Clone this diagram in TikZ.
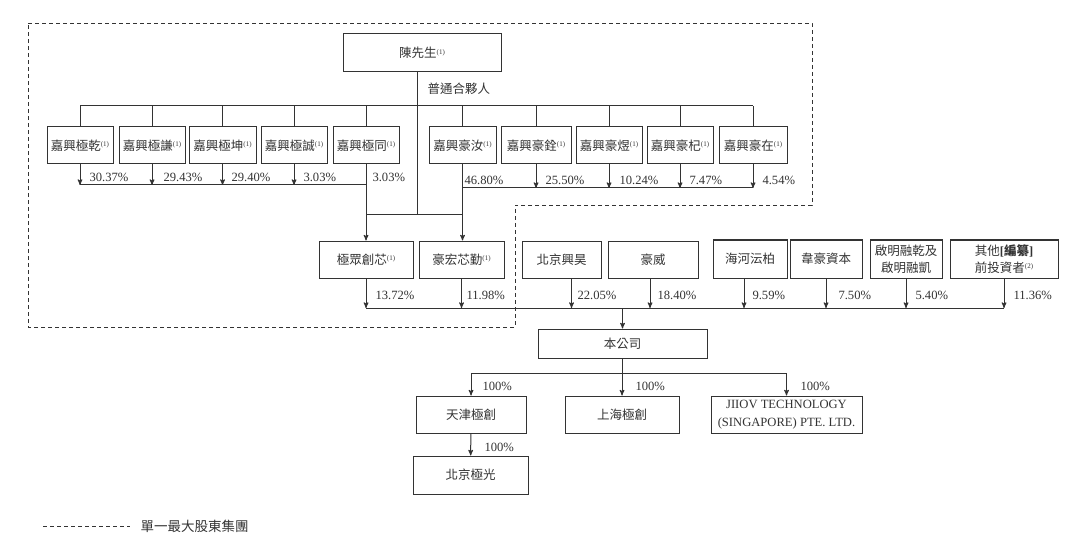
\documentclass[tikz,border=0pt]{standalone}
\usepackage{fontspec}
\setmainfont{Liberation Serif}
\newfontfamily\cjk{Noto Sans CJK TC}
\usepackage{tikz}
\usetikzlibrary{arrows}
\definecolor{ink}{HTML}{333333}
\newcommand{\fn}[1]{\raisebox{3.5pt}{\rmfamily\fontsize{7}{7}\selectfont(#1)}}
\newcommand{\lat}[1]{{\rmfamily #1}}

\begin{document}
\begin{tikzpicture}[>=stealth',x=1pt,y=-1pt,line width=1pt,color=ink]
	\useasboundingbox (0,0) rectangle (1080,559);
	\tikzset{entity/.style={draw,inner sep=1pt,align=center,minimum height=37pt,font=\cjk\fontsize{12.5}{17}\selectfont}}
	\tikzset{pct/.style={anchor=west,inner sep=0pt,font=\fontsize{12.6}{14}\selectfont}}
	\tikzset{group/.style={dash pattern=on 4pt off 3pt,line width=0.8pt}}
	% bus levels
	\coordinate (topbus) at (0,106);
	\coordinate (busL)   at (0,185);
	\coordinate (busR)   at (0,188);
	\coordinate (midbus) at (0,215);
	\coordinate (lowbus) at (0,308);
	\coordinate (subbus) at (0,373);
	% single largest shareholder group
	\draw[group] (28,23) -- (812,23) -- (812,205) -- (515,205) -- (515,327) -- (28,327) -- cycle;
	
	\node[entity,minimum width=158pt,minimum height=38pt] (chen) at (422,53) {陳先生\fn{1}};
	\node[anchor=west,inner sep=0pt,font=\cjk\fontsize{12.5}{14}\selectfont] (gplabel) at (427,89) {普通合夥人};
	
	\node[entity,minimum width=66pt] (qian)  at (80,145.5)  {嘉興極乾\fn{1}};
	\node[entity,minimum width=66pt] (qianx) at (152,145.5) {嘉興極謙\fn{1}};
	\node[entity,minimum width=67pt] (kun)   at (222.5,145.5) {嘉興極坤\fn{1}};
	\node[entity,minimum width=66pt] (cheng) at (294,145.5) {嘉興極誠\fn{1}};
	\node[entity,minimum width=66pt] (tong)  at (366,145.5) {嘉興極同\fn{1}};
	\node[entity,minimum width=67pt] (ru)    at (462.5,145.5) {嘉興豪汝\fn{1}};
	\node[entity,minimum width=70pt] (quan)  at (536,145.5) {嘉興豪銓\fn{1}};
	\node[entity,minimum width=66pt] (yu)    at (609,145.5) {嘉興豪煜\fn{1}};
	\node[entity,minimum width=66pt] (qi)    at (680,145.5) {嘉興豪杞\fn{1}};
	\node[entity,minimum width=68pt] (zai)   at (753,145.5) {嘉興豪在\fn{1}};
	
	\node[entity,minimum width=94pt] (jz)   at (366,259.5) {極眾創芯\fn{1}};
	\node[entity,minimum width=85pt] (hh)   at (461.5,259.5) {豪宏芯勤\fn{1}};
	\node[entity,minimum width=79pt] (bjxh) at (561.5,259.5) {北京興昊};
	\node[entity,minimum width=90pt] (hw)   at (653,259.5) {豪威};
	\node[entity,minimum width=74pt,minimum height=38pt] (hhyb)  at (750,259) {海河沄柏};
	\node[entity,minimum width=72pt,minimum height=38pt] (whzb)  at (826,259) {韋豪資本};
	\node[entity,minimum width=72pt,minimum height=38pt] (qm)    at (906,259) {啟明融乾及\\啟明融凱};
	\node[entity,minimum width=108pt,minimum height=38pt] (other) at (1004,259) {其他\textbf{\lat{[}編纂\lat{]}}\\前投資者\fn{2}};
	
	\node[entity,minimum width=169pt,minimum height=29pt] (bgs) at (622.5,343.5) {本公司};
	\node[entity,minimum width=110pt] (tj)    at (471,414.5) {天津極創};
	\node[entity,minimum width=114pt] (sh)    at (622,414.5) {上海極創};
	\node[entity,minimum width=151pt,font=\rmfamily\fontsize{12.6}{18}\selectfont] (jiiov) at (786.5,414.5) {JIIOV TECHNOLOGY\\(SINGAPORE) PTE. LTD.};
	\node[entity,minimum width=115pt,minimum height=38pt] (bjjg) at (470.5,475) {北京極光};
	
	% general partner lines
	\draw ([xshift=-5pt]chen.south) coordinate (gp) -- (gp |- midbus);
	\draw (qian.north |- topbus) -- (zai.north |- topbus);
	\path
	(qian)  edge (qian.north |- topbus)
	(qianx) edge (qianx.north |- topbus)
	(kun)   edge (kun.north |- topbus)
	(cheng) edge (cheng.north |- topbus)
	(tong)  edge (tong.north |- topbus)
	(ru)    edge (ru.north |- topbus)
	(quan)  edge (quan.north |- topbus)
	(yu)    edge (yu.north |- topbus)
	(qi)    edge (qi.north |- topbus)
	(zai)   edge (zai.north |- topbus);
	
	% limited partners
	\draw (qian.south |- busL) -- (tong.south |- busL);
	\draw (ru.south |- busR) -- (zai.south |- busR);
	\draw (tong.south |- midbus) -- (ru.south |- midbus);
	\path[->]
	(qian)  edge (qian.south |- busL)
	(qianx) edge (qianx.south |- busL)
	(kun)   edge (kun.south |- busL)
	(cheng) edge (cheng.south |- busL)
	(tong)  edge (jz)
	(ru)    edge (ru.south |- hh.north)
	(quan)  edge (quan.south |- busR)
	(yu)    edge (yu.south |- busR)
	(qi)    edge (qi.south |- busR)
	(zai)   edge (zai.south |- busR);
	
	% shareholders of the company
	\draw (jz.south |- lowbus) -- (other.south |- lowbus);
	\path[->]
	(jz)    edge (jz.south |- lowbus)
	(hh)    edge (hh.south |- lowbus)
	([xshift=10pt]bjxh.south) edge ([xshift=10pt]bjxh.south |- lowbus)
	([xshift=-3pt]hw.south)   edge ([xshift=-3pt]hw.south |- lowbus)
	([xshift=-6pt]hhyb.south) edge ([xshift=-6pt]hhyb.south |- lowbus)
	(whzb)  edge (whzb.south |- lowbus)
	(qm)    edge (qm.south |- lowbus)
	(other) edge (other.south |- lowbus)
	(bgs.north |- lowbus) edge (bgs);
	
	% subsidiaries
	\draw (bgs) -- (bgs.south |- subbus);
	\draw (tj.north |- subbus) -- (jiiov.north |- subbus);
	\path[->]
	(tj.north |- subbus)    edge (tj)
	(sh.north |- subbus)    edge (sh)
	(jiiov.north |- subbus) edge (jiiov)
	(tj)    edge (bjjg);
	
	\node[pct] (p-qian)  at (89,177)  {30.37\%};
	\node[pct] (p-qianx) at (163,177) {29.43\%};
	\node[pct] (p-kun)   at (231,177) {29.40\%};
	\node[pct] (p-cheng) at (303,177) {3.03\%};
	\node[pct] (p-tong)  at (372,177) {3.03\%};
	\node[pct] (p-ru)    at (464,180) {46.80\%};
	\node[pct] (p-quan)  at (545,180) {25.50\%};
	\node[pct] (p-yu)    at (619,180) {10.24\%};
	\node[pct] (p-qi)    at (689,180) {7.47\%};
	\node[pct] (p-zai)   at (762,180) {4.54\%};
	
	\node[pct] (p-jz)    at (375,295)  {13.72\%};
	\node[pct] (p-hh)    at (466,295)  {11.98\%};
	\node[pct] (p-bjxh)  at (577,295)  {22.05\%};
	\node[pct] (p-hw)    at (657,295)  {18.40\%};
	\node[pct] (p-hhyb)  at (752,295)  {9.59\%};
	\node[pct] (p-whzb)  at (838,295)  {7.50\%};
	\node[pct] (p-qm)    at (915,295)  {5.40\%};
	\node[pct] (p-other) at (1013,295) {11.36\%};
	
	\node[pct] (p-tj)    at (482,386) {100\%};
	\node[pct] (p-sh)    at (635,386) {100\%};
	\node[pct] (p-jiiov) at (800,386) {100\%};
	\node[pct] (p-bjjg)  at (484,447) {100\%};
	
	% legend
	\coordinate (lg) at (43,526);
	\node[anchor=west,inner sep=0pt,font=\cjk\fontsize{13.5}{15}\selectfont] (lgtext) at (140,526) {單一最大股東集團};
	\draw[group] (lg) -- (lgtext.west -| 130,0);
	
\end{tikzpicture}
\end{document}
